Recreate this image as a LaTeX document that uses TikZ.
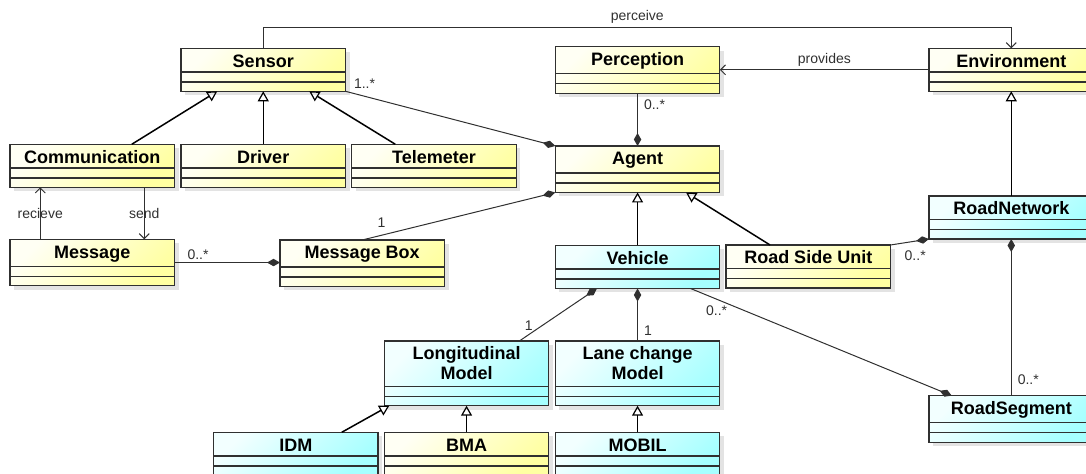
\documentclass[tikz,border=0pt]{standalone}
\usepackage{fontspec}
\setmainfont{Liberation Sans}
\usepackage{xcolor}
\usetikzlibrary{arrows.meta,shadows}

\definecolor{boxline}{HTML}{303030}
\definecolor{ylo}{HTML}{FFFFF4}
\definecolor{yhi}{HTML}{FFFFA2}
\definecolor{clo}{HTML}{F2FFFF}
\definecolor{chi}{HTML}{A6FFFF}

\begin{document}
\begin{tikzpicture}[x=0.5pt,y=-0.5pt,
	cls/.style={draw=boxline, line width=0.65pt, anchor=north west, outer sep=0pt,
		inner xsep=0pt, inner ysep=0pt, minimum width=82.25pt,
		font=\fontsize{9}{10}\selectfont\bfseries, text height=9.5pt, text depth=12pt,
		drop shadow={shadow xshift=2pt, shadow yshift=-2pt, fill=black!11, opacity=1},
		path picture={\draw[boxline, line width=0.65pt]
			([yshift=4.7pt]path picture bounding box.south west) -- ([yshift=4.7pt]path picture bounding box.south east)
			([yshift=9.7pt]path picture bounding box.south west) -- ([yshift=9.7pt]path picture bounding box.south east);}},
	tall/.style={text depth=13.75pt},
	twoline/.style={text depth=22.85pt},
	yel/.style={cls, left color=ylo, right color=yhi, shading angle=45},
	cya/.style={cls, left color=clo, right color=chi, shading angle=45},
	gen/.style={draw=black, line width=0.75pt, -{Triangle[open, length=5pt, width=5.5pt, line width=0.6pt]}},
	comp/.style={draw=boxline, line width=0.5pt, -{Diamond[length=6.5pt, width=3.7pt]}},
	nav/.style={draw=boxline, line width=0.5pt, -{Straight Barb[length=2.5pt, width=5pt]}},
	mult/.style={font=\fontsize{7}{8}\selectfont, inner sep=1pt, text=boxline}]
	\useasboundingbox (0,0) rectangle (1086,474);
	\clip (0,0) rectangle (1086,474);

	\node[yel] (sensor) at (181,48.3) {Sensor};
	\node[yel] (comm) at (10,144.3) {Communication};
	\node[yel] (driver) at (181,144.3) {Driver};
	\node[yel] (tele) at (351.8,144.3) {Telemeter};
	\node[yel, tall] (perc) at (555.3,46.7) {Perception};
	\node[yel] (env) at (929,48.3) {Environment};
	\node[yel, tall] (agent) at (555.3,146) {Agent};
	\node[cya] (rnet) at (929,196) {RoadNetwork};
	\node[yel, tall] (msg) at (10,239.3) {Message};
	\node[yel, tall] (mbox) at (280,240) {Message Box};
	\node[cya] (veh) at (555.3,245.5) {Vehicle};
	\node[yel] (rsu) at (726,245) {Road Side Unit};
	\node[cya, twoline] (long) at (384.3,341) {\begin{tabular}[t]{@{}c@{}}Longitudinal\\Model\end{tabular}};
	\node[cya, twoline] (lane) at (555.3,341) {\begin{tabular}[t]{@{}c@{}}Lane change\\Model\end{tabular}};
	\node[cya, tall] (rseg) at (929,395.7) {RoadSegment};
	\node[cya] (idm) at (213.5,432.3) {IDM};
	\node[yel] (bma) at (384.3,432.3) {BMA};
	\node[cya] (mobil) at (555.3,432.3) {MOBIL};

	\draw[gen] ([xshift=19.75pt]comm.north) -- ([xshift=-23pt]sensor.south);
	\draw[gen] (driver.north) -- (sensor.south);
	\draw[gen] ([xshift=-19.35pt]tele.north) -- ([xshift=23pt]sensor.south);
	\draw[nav] (sensor.north) -- ++(0,-21) -| (env.north) node[mult, pos=0.25, above=0.5pt] {perceive};
	\draw[nav] (env.west) -- (env.west -| perc.east) node[mult, midway, above=0.5pt] {provides};
	\draw[comp] (perc.south) -- (agent.north) node[mult, pos=0.22, right=2pt] {0..*};
	\draw[comp] (sensor.south east) -- (agent.north west) node[mult, pos=0, anchor=south west, xshift=3pt] {1..*};
	\draw[comp] (mbox.north) -- (agent.south west) node[mult, pos=0.1, above=2.5pt] {1};
	\draw[nav] ([xshift=-26pt]msg.north) -- ([xshift=-26pt]comm.south) node[mult, midway] {recieve};
	\draw[nav] ([xshift=26pt]comm.south) -- ([xshift=26pt]msg.north) node[mult, midway] {send};
	\draw[comp] (msg.east) -- (msg.east -| mbox.west) node[mult, pos=0.1, above right] {0..*};
	\draw[gen] (veh.north) -- (agent.south);
	\draw[gen] ([xshift=-19.1pt]rsu.north) -- ([xshift=24.25pt]agent.south);
	\draw[comp] (rsu.north east) -- (rnet.south west) node[mult, pos=0.2, below right=2pt] {0..*};
	\draw[gen] (rnet.north) -- (env.south);
	\draw[comp] (rseg.north) -- (rnet.south) node[mult, pos=0.1, right=2pt] {0..*};
	\draw[comp] ([xshift=26.5pt]veh.south) -- ([xshift=-29.75pt]rseg.north) node[mult, pos=0.1, below=2pt] {0..*};
	\draw[comp] ([xshift=26.4pt]long.north) -- ([xshift=-20.3pt]veh.south) node[mult, pos=0.12, above=1pt] {1};
	\draw[comp] (lane.north) -- (veh.south) node[mult, pos=0.2, right=2pt] {1};
	\draw[gen] ([xshift=23pt]idm.north) -- ([xshift=-38.6pt]long.south);
	\draw[gen] (bma.north) -- (long.south);
	\draw[gen] (mobil.north) -- (lane.south);
\end{tikzpicture}
\end{document}
